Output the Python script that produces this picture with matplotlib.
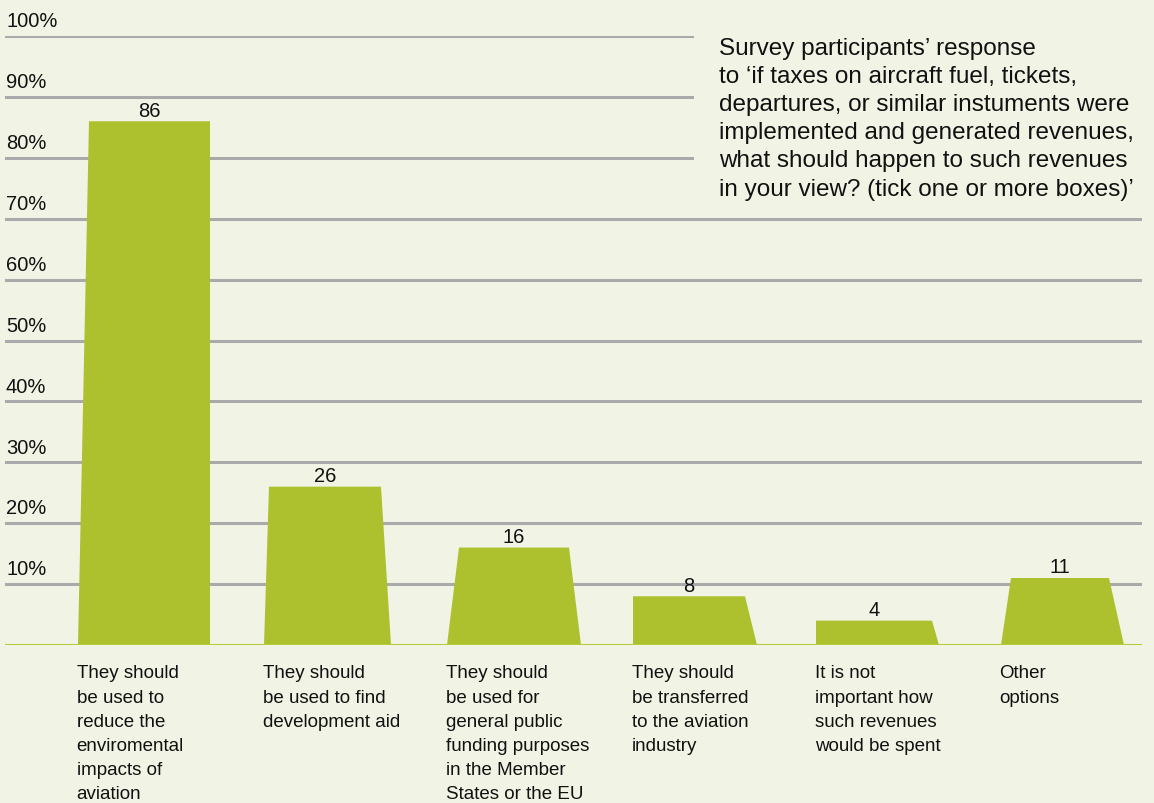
import matplotlib.pyplot as plt
from matplotlib.patches import Polygon

plt.rcParams['font.family'] = ['Liberation Sans', 'DejaVu Sans']

# data
categories = [
    'They should\nbe used to\nreduce the\nenviromental\nimpacts of\naviation',
    'They should\nbe used to find\ndevelopment aid',
    'They should\nbe used for\ngeneral public\nfunding purposes\nin the Member\nStates or the EU',
    'They should\nbe transferred\nto the aviation\nindustry',
    'It is not\nimportant how\nsuch revenues\nwould be spent',
    'Other\noptions',
]
values = [86, 26, 16, 8, 4, 11]
yticks = [10, 20, 30, 40, 50, 60, 70, 80, 90, 100]
title = ("Survey participants\u2019 response\n"
         "to \u2018if taxes on aircraft fuel, tickets,\n"
         "departures, or similar instuments were\n"
         "implemented and generated revenues,\n"
         "what should happen to such revenues\n"
         "in your view? (tick one or more boxes)\u2019")

# trapezoid shape of each bar (offsets from category position, in px of a 184px slot)
bot_l = [-66, -64, -65, -63, -64, -63]
bot_r = [66, 63, 69, 61, 59, 60]
top_l = [-55, -59, -53, -63, -64, -53]
top_r = [66, 53, 57, 49, 52, 45]
slot = 184.0

bg = '#f1f4e5'
bar_col = '#adc12e'
base_col = '#b8cb3e'
grid_col = '#aaaaaa'
txt = '#111111'

W, H = 1154, 804
fig = plt.figure(figsize=(W / 100, H / 100), dpi=100, facecolor=bg)
ax = fig.add_axes([0, (H - 646) / H, 1, (646 - 37) / H])
ax.set_facecolor(bg)
ax.set_xlim(-144 / slot, (W - 144) / slot)
ax.set_ylim(0, 100)
ax.axis('off')

# gridlines + percent labels
for t in yticks:
    right = 692 / W if t >= 80 else 1140 / W
    ax.axhline(t, xmin=6 / W, xmax=right, color=grid_col, lw=2.2, zorder=1)
    ax.annotate(f'{t}%', xy=(6 / W, t), xycoords=('axes fraction', 'data'),
                xytext=(0, 7), textcoords='offset points',
                ha='left', va='baseline', fontsize=14.5, color=txt)

ax.axhline(0, xmin=6 / W, xmax=1140 / W, color=base_col, lw=2.2, zorder=3)

for i, v in enumerate(values):
    pts = [(i + bot_l[i] / slot, 0), (i + top_l[i] / slot, v),
           (i + top_r[i] / slot, v), (i + bot_r[i] / slot, 0)]
    ax.add_patch(Polygon(pts, closed=True, facecolor=bar_col, edgecolor='none', zorder=2))
    cx = i + (top_l[i] + top_r[i]) / 2 / slot
    ax.annotate(str(v), xy=(cx, v), xytext=(0, 4), textcoords='offset points',
                ha='center', va='baseline', fontsize=14.5, color=txt)
    ax.annotate(categories[i], xy=(i + bot_l[i] / slot, 0),
                xytext=(-1, -14), textcoords='offset points',
                ha='left', va='top', fontsize=13.5, linespacing=1.55,
                color=txt, annotation_clip=False)

fig.text(719 / W, 1 - 38 / H, title, ha='left', va='top', fontsize=17.5,
         linespacing=1.36, color=txt)

fig.savefig('out.png', dpi=100, facecolor=bg)
